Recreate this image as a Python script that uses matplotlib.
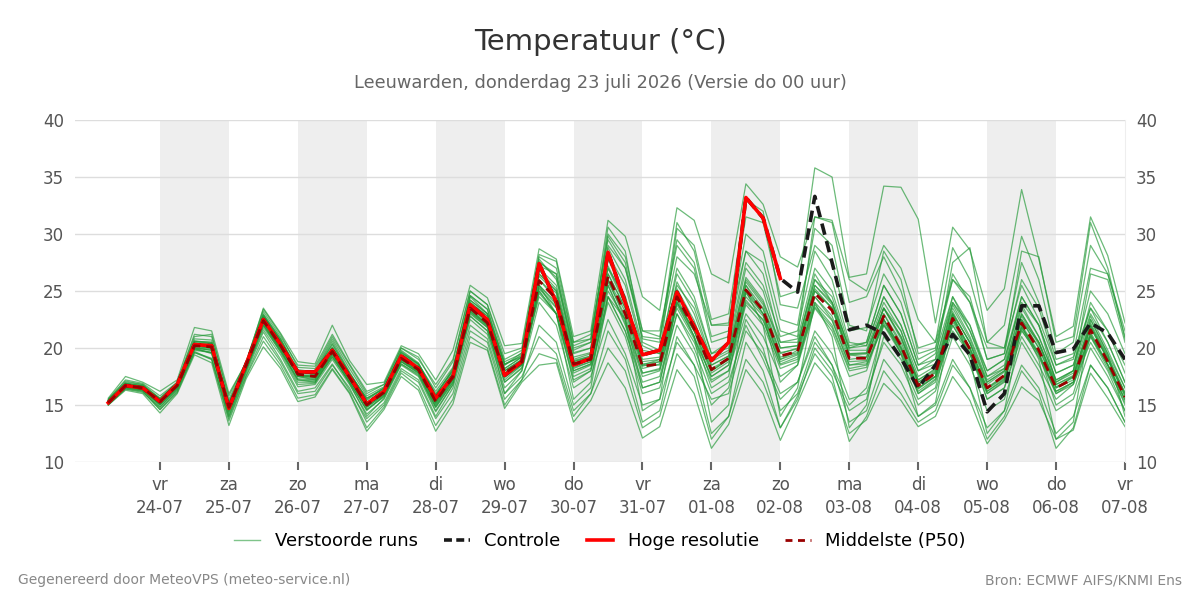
"""
Ensemble temperature plume for Leeuwarden (ECMWF AIFS ensemble).
"""

import matplotlib
matplotlib.use("Agg")
import matplotlib.pyplot as plt
from matplotlib.lines import Line2D
import pandas as pd


# 6-hourly steps from 23-07 06:00 up to 07-08 00:00 (60 values)
TIMES = pd.date_range("2026-07-23 06:00", periods=60, freq="6h")

TICK_DATES = pd.date_range("2026-07-24", "2026-08-07", freq="D")
TICK_DAYS = ["vr", "za", "zo", "ma", "di", "wo", "do", "vr",
             "za", "zo", "ma", "di", "wo", "do", "vr"]
TICK_LABELS = [f"{d}\n{t:%d-%m}" for d, t in zip(TICK_DAYS, TICK_DATES)]
SHADED_DAYS = ["2026-07-24", "2026-07-26", "2026-07-28", "2026-07-30",
               "2026-08-01", "2026-08-03", "2026-08-05"]

# high resolution run (ends 02-08 00:00)
hres = [15.2, 16.7, 16.5,
        15.3, 16.8, 20.3, 20.2,
        14.7, 18.6, 22.5, 20.3,
        17.9, 17.9, 19.8, 17.5,
        15.1, 16.2, 19.3, 18.2,
        15.6, 17.5, 23.8, 22.5,
        17.6, 18.8, 27.4, 24.0,
        18.5, 19.1, 28.4, 24.0,
        19.4, 19.8, 24.9, 21.9,
        18.9, 20.5, 33.2, 31.4,
        26.1]

# control run
control = [15.2, 16.7, 16.5,
           15.3, 16.8, 20.3, 20.2,
           14.7, 18.6, 22.5, 20.3,
           17.9, 17.9, 19.8, 17.5,
           15.1, 16.2, 19.3, 18.2,
           15.6, 17.5, 23.8, 22.5,
           17.6, 18.8, 27.4, 24.0,
           18.5, 19.1, 28.4, 24.0,
           19.4, 19.8, 24.9, 21.9,
           18.9, 20.5, 33.2, 31.4,
           26.1, 24.9, 33.3, 27.5,
           21.6, 22.0, 21.3, 19.1,
           16.5, 18.5, 21.2, 19.4,
           14.4, 16.0, 23.7, 23.7,
           19.6, 19.9, 22.2, 21.3,
           19.0]

# ensemble median
p50 = [15.2, 16.7, 16.5,
       15.3, 16.7, 20.2, 20.1,
       14.8, 18.5, 22.4, 20.2,
       17.7, 17.5, 19.7, 17.4,
       15.0, 16.1, 19.1, 18.1,
       15.3, 17.5, 23.5, 22.2,
       17.8, 18.8, 25.9, 24.3,
       18.6, 19.0, 26.3, 23.0,
       18.4, 18.6, 24.5, 21.7,
       18.1, 19.1, 25.1, 23.3,
       19.3, 19.7, 24.8, 23.3,
       19.1, 19.1, 22.8, 20.2,
       16.7, 17.8, 22.6, 19.9,
       16.5, 17.6, 22.2, 19.8,
       16.5, 17.3, 21.6, 18.8,
       15.7]

# perturbed members
m01 = [15.5, 17.2, 16.9, 15.8, 17.0, 21.0, 21.2, 15.5, 18.8, 23.2, 21.0,
       18.5, 18.4, 21.2, 18.6, 16.2, 16.8, 20.0, 19.2, 16.5, 18.8, 25.0, 23.8,
       19.5, 20.0, 28.2, 27.6, 20.5, 21.2, 29.5, 27.0, 21.0, 20.8, 28.0, 26.5,
       22.0, 22.2, 31.5, 31.0, 24.5, 25.0, 35.8, 35.0, 26.2, 26.5, 34.2, 34.1,
       31.3, 22.2, 30.6, 28.6, 23.3, 25.2, 33.9, 27.8, 21.0, 21.9, 31.5, 28.1,
       22.2]
m02 = [15.6, 17.5, 17.0, 16.2, 17.2, 21.8, 21.5, 16.0, 18.7, 23.5, 21.3,
       18.8, 18.6, 22.0, 18.9, 16.8, 17.0, 20.2, 19.5, 17.2, 19.8, 25.5, 24.4,
       20.2, 20.4, 28.7, 27.8, 21.0, 21.5, 31.2, 29.8, 24.5, 23.3, 32.3, 31.2,
       26.5, 25.7, 34.4, 32.6, 28.0, 27.1, 31.5, 31.2, 26.0, 25.0, 29.0, 27.0,
       22.5, 20.5, 28.8, 26.0, 20.5, 20.0, 27.5, 24.0, 19.0, 19.5, 27.0, 26.5,
       21.0]
m03 = [15.0, 16.3, 16.0, 14.3, 16.0, 19.4, 18.7, 13.2, 17.3, 20.1, 18.2,
       15.3, 15.7, 18.1, 16.0, 12.7, 14.6, 17.5, 16.3, 12.7, 15.1, 20.5, 19.8,
       14.7, 17.0, 18.5, 18.7, 13.5, 15.4, 18.7, 16.5, 12.1, 13.1, 18.1, 16.0,
       11.2, 13.3, 18.1, 16.0, 11.9, 15.2, 18.7, 16.9, 12.5, 13.7, 16.9, 15.4,
       13.1, 14.0, 17.5, 15.4, 11.6, 13.7, 16.6, 15.4, 12.0, 12.8, 17.8, 15.6,
       13.1]
m04 = [15.4, 16.9, 16.6, 15.6, 16.9, 20.6, 20.5, 15.0, 18.6, 22.9, 20.6,
       17.9, 17.8, 20.4, 17.8, 15.6, 16.4, 19.6, 18.6, 16.0, 18.0, 24.6, 23.4,
       18.5, 19.6, 27.8, 26.0, 20.0, 20.5, 30.6, 28.5, 20.5, 19.8, 26.5, 24.0,
       19.5, 20.5, 27.5, 25.5, 21.0, 21.5, 28.5, 26.0, 20.5, 20.2, 24.5, 22.0,
       18.0, 18.6, 24.5, 21.5, 17.5, 18.2, 23.8, 21.0, 17.2, 18.0, 24.0, 21.5,
       17.8]
m05 = [15.1, 16.5, 16.3, 15.0, 16.4, 19.9, 19.6, 14.5, 18.2, 22.0, 19.9,
       17.2, 17.1, 19.3, 17.0, 14.6, 15.8, 18.8, 17.8, 14.9, 17.2, 23.0, 21.8,
       17.2, 18.5, 25.2, 23.5, 17.8, 18.5, 25.5, 22.0, 17.5, 18.0, 23.5, 20.8,
       17.5, 18.5, 24.0, 22.5, 18.5, 19.0, 23.8, 22.0, 18.2, 18.5, 22.0, 19.5,
       16.0, 17.2, 22.0, 19.5, 16.2, 17.2, 21.8, 19.5, 16.0, 17.0, 21.2, 18.5,
       15.5]
m06 = [15.3, 16.8, 16.7, 15.2, 16.9, 20.4, 20.2, 14.6, 18.4, 22.6, 20.4,
       17.5, 17.6, 20.0, 17.6, 15.2, 16.2, 19.3, 18.3, 15.6, 17.8, 24.0, 22.8,
       18.2, 19.2, 27.0, 25.5, 19.5, 20.0, 28.8, 26.0, 20.2, 19.5, 30.5, 29.0,
       22.5, 23.0, 33.0, 32.0, 23.8, 23.5, 29.0, 27.5, 21.5, 21.8, 26.5, 24.0,
       19.0, 19.8, 26.0, 24.0, 20.0, 20.0, 25.5, 22.5, 18.5, 19.2, 23.5, 21.5,
       18.5]
m07 = [15.2, 16.6, 16.4, 15.1, 16.6, 20.0, 19.8, 14.2, 18.0, 21.6, 19.4,
       16.6, 16.8, 19.0, 16.8, 14.2, 15.5, 18.5, 17.5, 14.4, 16.8, 22.5, 21.2,
       16.5, 18.0, 24.0, 22.0, 16.5, 17.5, 22.5, 19.5, 15.0, 15.5, 20.5, 18.5,
       15.5, 16.0, 21.5, 19.5, 16.0, 17.0, 21.5, 19.5, 15.5, 16.0, 20.5, 18.5,
       15.0, 16.2, 21.0, 18.5, 14.5, 15.5, 20.5, 18.0, 14.5, 15.5, 20.0, 17.5,
       14.5]
m08 = [15.4, 17.0, 16.8, 15.5, 16.9, 20.8, 20.7, 15.1, 18.6, 23.0, 20.8,
       18.0, 17.9, 20.6, 17.9, 15.4, 16.5, 19.8, 18.7, 15.8, 18.2, 24.2, 23.0,
       18.6, 19.2, 26.5, 25.0, 19.0, 19.5, 27.0, 24.5, 19.5, 19.8, 25.5, 23.5,
       19.0, 19.8, 26.0, 24.0, 20.5, 20.8, 27.0, 25.0, 20.2, 20.5, 25.5, 23.0,
       18.5, 19.0, 27.5, 28.8, 20.5, 22.0, 29.8, 26.0, 19.5, 20.5, 29.0, 26.5,
       21.5]
m09 = [15.0, 16.4, 16.2, 14.6, 16.2, 19.6, 19.0, 13.8, 17.6, 21.0, 18.8,
       16.0, 16.2, 18.5, 16.5, 13.5, 15.0, 18.0, 17.0, 13.8, 16.0, 21.5, 20.5,
       15.5, 17.2, 22.0, 20.5, 15.0, 16.5, 24.5, 22.5, 16.5, 17.0, 24.0, 21.0,
       16.5, 17.5, 25.5, 23.0, 17.0, 18.5, 24.5, 22.5, 18.5, 18.8, 23.5, 21.5,
       16.8, 17.5, 23.0, 20.5, 16.0, 17.0, 22.5, 20.5, 16.5, 17.5, 22.5, 19.5,
       16.5]
m10 = [15.3, 16.7, 16.5, 15.3, 16.7, 20.2, 20.0, 14.9, 18.5, 22.4, 20.1,
       17.7, 17.5, 19.7, 17.3, 15.0, 16.1, 19.0, 18.0, 15.3, 17.4, 23.6, 22.2,
       17.8, 18.8, 26.5, 25.0, 18.8, 19.2, 27.8, 24.5, 18.5, 18.5, 25.0, 22.0,
       18.0, 19.0, 25.0, 23.0, 19.0, 19.5, 25.0, 23.5, 19.0, 19.2, 23.0, 20.5,
       17.0, 17.8, 22.8, 20.0, 16.5, 17.6, 22.5, 20.0, 16.5, 17.2, 21.8, 19.0,
       15.8]
m11 = [15.2, 16.6, 16.5, 15.4, 16.8, 20.3, 20.2, 15.2, 18.6, 22.6, 20.5,
       17.5, 17.2, 19.8, 17.5, 15.2, 16.2, 19.2, 18.2, 15.5, 17.6, 23.8, 22.5,
       18.0, 19.0, 25.0, 23.0, 17.0, 18.0, 24.0, 21.0, 16.0, 16.5, 22.0, 19.5,
       15.0, 16.5, 22.5, 20.0, 14.5, 16.0, 20.5, 18.5, 13.5, 14.5, 19.0, 17.0,
       14.0, 15.0, 19.0, 16.5, 13.0, 14.5, 18.5, 16.5, 12.5, 14.0, 18.5, 16.5,
       13.5]
m12 = [15.5, 17.1, 16.8, 15.6, 17.0, 21.2, 21.0, 15.8, 18.8, 23.4, 21.2,
       18.3, 18.2, 21.0, 18.5, 16.0, 16.8, 20.0, 19.0, 16.8, 19.0, 25.0, 23.8,
       19.0, 19.8, 28.0, 27.0, 20.5, 20.8, 30.0, 28.0, 21.5, 21.0, 29.5, 27.5,
       21.0, 21.5, 30.0, 28.5, 22.5, 22.0, 30.5, 29.0, 22.0, 21.5, 28.5, 26.0,
       19.5, 20.0, 26.5, 24.0, 19.0, 19.5, 26.0, 23.5, 18.5, 19.0, 25.0, 23.0,
       19.5]
m13 = [15.1, 16.4, 16.1, 14.8, 16.3, 19.6, 19.1, 14.0, 17.8, 21.4, 19.0,
       16.2, 16.5, 18.6, 16.3, 13.8, 15.2, 18.2, 17.2, 14.0, 16.5, 22.0, 20.8,
       16.0, 17.5, 21.0, 19.5, 14.5, 16.0, 20.0, 18.0, 13.0, 14.0, 19.5, 17.5,
       12.0, 14.0, 19.0, 17.0, 13.0, 15.5, 20.0, 18.0, 14.5, 15.5, 21.0, 19.0,
       15.5, 16.5, 22.5, 20.0, 15.5, 16.5, 21.5, 19.5, 15.0, 16.0, 21.0, 18.5,
       15.0]
m14 = [15.3, 16.9, 16.6, 15.5, 16.8, 20.5, 20.4, 15.3, 18.5, 22.8, 20.6,
       18.0, 18.0, 20.8, 18.2, 15.8, 16.6, 19.6, 18.6, 16.2, 18.3, 24.2, 23.0,
       18.8, 19.5, 27.2, 26.5, 19.8, 20.5, 29.0, 27.0, 21.5, 21.5, 29.0, 27.0,
       20.5, 21.0, 28.5, 27.5, 21.5, 21.0, 31.5, 31.0, 24.0, 24.5, 28.0, 25.0,
       20.0, 20.5, 26.0, 24.5, 19.0, 19.5, 28.5, 28.0, 20.5, 21.0, 31.0, 27.0,
       20.8]
m15 = [15.2, 16.6, 16.4, 15.2, 16.5, 19.9, 19.6, 14.7, 18.3, 22.2, 19.8,
       17.3, 17.2, 19.4, 17.2, 14.8, 15.9, 18.8, 17.9, 15.2, 17.3, 23.2, 22.0,
       17.5, 18.6, 24.5, 23.0, 18.0, 18.6, 25.0, 22.5, 17.8, 18.2, 24.0, 21.5,
       17.2, 18.0, 23.0, 21.0, 17.5, 18.5, 23.5, 21.5, 17.5, 18.0, 22.5, 20.0,
       16.0, 17.0, 21.5, 19.5, 15.5, 16.5, 21.0, 18.5, 15.5, 16.8, 20.5, 18.0,
       14.5]
m16 = [15.1, 16.6, 16.3, 14.8, 16.4, 20.0, 19.5, 14.0, 18.0, 22.0, 19.6,
       16.8, 16.9, 19.5, 16.9, 14.0, 15.6, 18.8, 17.8, 14.5, 16.8, 23.4, 22.0,
       16.0, 18.0, 25.5, 23.0, 15.5, 17.0, 26.0, 22.5, 14.5, 15.5, 24.5, 21.0,
       13.5, 15.0, 25.0, 22.0, 14.0, 16.5, 24.0, 21.0, 13.0, 15.0, 22.5, 19.5,
       14.0, 15.2, 23.0, 19.0, 12.5, 14.5, 22.0, 19.0, 12.0, 13.5, 22.5, 19.5,
       14.0]
m17 = [15.4, 16.9, 16.7, 15.4, 16.9, 20.6, 20.4, 15.2, 18.7, 22.8, 20.7,
       17.9, 17.8, 20.1, 17.7, 15.6, 16.5, 19.5, 18.5, 15.8, 18.0, 24.5, 23.0,
       18.5, 19.4, 27.5, 26.5, 20.2, 20.8, 29.8, 27.5, 20.8, 20.5, 31.0, 28.5,
       22.0, 22.0, 28.5, 26.5, 20.5, 20.5, 26.0, 24.0, 20.0, 20.5, 25.5, 23.0,
       18.5, 19.5, 24.5, 22.0, 18.0, 19.0, 24.0, 22.0, 17.8, 18.5, 23.0, 20.5,
       17.0]
m18 = [15.3, 16.8, 16.6, 15.3, 16.7, 20.4, 20.3, 14.9, 18.5, 22.5, 20.3,
       17.8, 17.7, 19.9, 17.5, 15.1, 16.3, 19.2, 18.2, 15.5, 17.7, 23.5, 22.4,
       18.0, 18.9, 26.0, 24.5, 18.8, 19.3, 26.5, 23.5, 18.5, 19.0, 25.0, 22.0,
       18.5, 19.3, 25.5, 23.5, 19.5, 20.0, 25.0, 23.5, 19.5, 19.5, 23.5, 21.0,
       17.0, 18.0, 23.0, 20.5, 17.0, 18.0, 23.0, 20.5, 17.0, 17.8, 22.0, 19.0,
       16.0]
m19 = [15.2, 16.7, 16.4, 15.0, 16.6, 20.0, 19.8, 14.4, 18.2, 22.0, 19.8,
       17.0, 17.0, 19.2, 17.0, 14.5, 15.8, 18.6, 17.6, 14.8, 17.0, 22.8, 21.5,
       17.0, 18.3, 25.0, 23.0, 17.5, 18.2, 24.5, 21.5, 16.5, 17.0, 23.0, 20.0,
       16.0, 17.0, 22.0, 19.0, 15.5, 17.0, 21.0, 18.5, 15.0, 16.5, 22.0, 20.0,
       16.5, 17.5, 24.0, 22.0, 17.5, 18.5, 24.5, 22.0, 17.0, 18.0, 26.5, 26.0,
       20.5]
m20 = [15.0, 16.5, 16.2, 14.6, 16.1, 19.7, 19.0, 13.6, 17.5, 20.6, 18.5,
       15.6, 15.9, 18.2, 16.1, 13.0, 14.8, 17.8, 16.6, 13.2, 15.5, 21.0, 20.0,
       15.0, 17.2, 19.5, 19.0, 14.0, 16.0, 21.5, 19.0, 13.5, 14.5, 21.0, 18.5,
       12.5, 14.0, 20.5, 18.0, 13.0, 15.8, 19.5, 17.5, 11.8, 14.0, 18.0, 16.0,
       13.5, 14.5, 18.5, 16.5, 12.0, 14.0, 18.0, 16.0, 11.2, 13.0, 18.5, 16.5,
       13.5]
m21 = [15.3, 16.8, 16.6, 15.4, 16.8, 20.4, 20.2, 14.9, 18.6, 22.7, 20.4,
       17.9, 17.7, 20.0, 17.6, 15.2, 16.3, 19.4, 18.4, 15.6, 17.8, 24.0, 22.8,
       18.2, 19.2, 26.8, 25.2, 19.2, 19.6, 27.2, 24.0, 19.0, 19.2, 25.8, 23.0,
       18.8, 19.6, 26.2, 24.2, 20.0, 20.2, 26.0, 24.5, 19.8, 19.8, 24.0, 21.5,
       17.5, 18.4, 23.8, 21.0, 17.2, 18.2, 23.5, 21.0, 17.2, 18.0, 22.8, 19.8,
       16.5]
m22 = [15.2, 16.6, 16.4, 15.1, 16.6, 20.0, 19.9, 14.6, 18.3, 22.1, 20.0,
       17.5, 17.3, 19.5, 17.2, 14.8, 15.9, 18.9, 17.9, 15.0, 17.2, 23.1, 21.8,
       17.4, 18.5, 25.3, 23.6, 18.0, 18.6, 25.5, 22.2, 17.8, 18.1, 23.8, 21.0,
       17.5, 18.5, 24.2, 22.4, 18.6, 19.2, 24.0, 22.4, 18.5, 18.6, 22.2, 19.6,
       16.2, 17.3, 22.0, 19.4, 16.0, 17.1, 21.6, 19.2, 16.0, 16.8, 21.0, 18.2,
       15.2]
m23 = [15.4, 16.9, 16.7, 15.5, 16.9, 20.6, 20.5, 15.1, 18.7, 22.9, 20.8,
       18.1, 17.9, 20.3, 17.8, 15.5, 16.5, 19.7, 18.6, 15.9, 18.1, 24.6, 23.4,
       18.6, 19.3, 27.6, 26.2, 19.6, 20.0, 28.2, 25.5, 19.8, 19.5, 27.0, 24.5,
       19.5, 20.0, 27.0, 25.0, 20.0, 20.2, 26.5, 24.0, 19.5, 19.6, 23.5, 21.0,
       17.2, 18.2, 23.5, 20.8, 17.0, 18.0, 23.0, 20.5, 16.8, 17.5, 22.0, 19.2,
       16.0]
m24 = [15.1, 16.5, 16.3, 15.0, 16.5, 19.8, 19.6, 14.4, 18.1, 21.8, 19.7,
       17.2, 17.0, 19.2, 17.0, 14.6, 15.7, 18.6, 17.7, 14.8, 17.0, 22.8, 21.5,
       17.0, 18.2, 24.8, 23.0, 17.2, 18.0, 24.5, 21.5, 17.0, 17.5, 23.0, 20.5,
       17.0, 18.0, 23.8, 22.0, 18.2, 18.8, 23.6, 21.8, 18.0, 18.3, 22.5, 20.0,
       16.5, 17.5, 22.5, 19.8, 16.4, 17.4, 22.0, 19.6, 16.2, 17.0, 21.2, 18.5,
       15.4]
m25 = [15.3, 16.7, 16.6, 15.3, 16.7, 20.3, 20.1, 14.8, 18.5, 22.4, 20.2,
       17.6, 17.5, 19.8, 17.4, 15.0, 16.1, 19.1, 18.1, 15.3, 17.5, 23.4, 22.1,
       17.7, 18.8, 26.0, 24.2, 18.5, 19.0, 26.0, 23.2, 18.4, 18.8, 24.8, 22.0,
       18.2, 19.0, 25.0, 23.4, 19.2, 19.6, 25.2, 23.5, 19.4, 19.2, 23.0, 20.2,
       16.8, 17.9, 22.7, 20.0, 16.5, 17.5, 22.4, 20.0, 16.6, 17.4, 21.8, 19.0,
       15.8]
m26 = [15.2, 16.7, 16.5, 15.2, 16.7, 20.2, 20.0, 14.7, 18.4, 22.3, 20.1,
       17.6, 17.4, 19.6, 17.3, 14.9, 16.0, 19.0, 18.0, 15.2, 17.4, 23.3, 22.0,
       17.6, 18.6, 25.5, 23.8, 18.2, 18.8, 25.8, 22.8, 18.2, 18.6, 24.0, 21.5,
       18.0, 19.0, 24.8, 23.0, 19.0, 19.8, 25.5, 24.0, 20.0, 20.2, 24.5, 22.0,
       18.0, 19.0, 24.0, 21.5, 18.0, 19.0, 24.5, 22.0, 17.8, 18.5, 23.5, 20.5,
       17.0]
m27 = [15.2, 16.6, 16.4, 15.2, 16.6, 20.1, 20.0, 14.7, 18.4, 22.2, 20.0,
       17.6, 17.4, 19.6, 17.3, 14.9, 16.0, 19.0, 18.0, 15.1, 17.3, 23.2, 21.9,
       17.5, 18.6, 25.5, 24.0, 18.3, 18.8, 26.5, 23.5, 18.6, 18.8, 24.2, 21.5,
       17.8, 18.8, 24.5, 22.8, 18.8, 19.4, 24.5, 22.8, 18.8, 18.9, 22.5, 19.8,
       16.4, 17.5, 22.3, 19.6, 16.2, 17.3, 21.8, 19.4, 16.2, 17.0, 21.4, 18.6,
       15.5]
m28 = [15.4, 16.8, 16.6, 15.4, 16.8, 20.4, 20.3, 15.0, 18.6, 22.6, 20.4,
       17.8, 17.7, 19.9, 17.5, 15.2, 16.3, 19.3, 18.3, 15.5, 17.7, 23.7, 22.4,
       18.0, 19.0, 26.3, 24.8, 18.9, 19.3, 27.0, 23.8, 18.8, 19.0, 25.2, 22.4,
       18.5, 19.3, 25.8, 23.8, 19.6, 19.9, 25.5, 23.8, 19.4, 19.5, 23.5, 20.8,
       17.2, 18.1, 23.2, 20.4, 16.8, 17.9, 22.8, 20.3, 16.8, 17.6, 22.2, 19.3,
       16.1]

members = [m01, m02, m03, m04, m05, m06, m07, m08, m09, m10,
           m11, m12, m13, m14, m15, m16, m17, m18, m19, m20,
           m21, m22, m23, m24, m25, m26, m27, m28]

MEMBER_COLOR = "#259a39"
TEXT_DARK = "#333333"
TEXT_MID = "#555555"
TEXT_LIGHT = "#888888"


def main() -> None:
    fig = plt.figure(figsize=(12, 6), dpi=100)
    ax = fig.add_axes([0.0625, 0.23, 0.875, 0.57])

    for day in SHADED_DAYS:
        start = pd.Timestamp(day)
        ax.axvspan(start, start + pd.Timedelta(days=1), color="#eeeeee", lw=0, zorder=0)

    for vals in members:
        ax.plot(TIMES, vals, color=MEMBER_COLOR, lw=0.9, alpha=0.68, zorder=2)

    ax.plot(TIMES, control, color="#1a1a1a", lw=2.6, ls=(0, (3.2, 1.8)), zorder=3)
    ax.plot(TIMES[:len(hres)], hres, color="#ff0000", lw=2.6, zorder=4)
    ax.plot(TIMES, p50, color="#990000", lw=2.0, ls=(0, (3.5, 2.2)), zorder=5)

    ax.set_ylim(10, 40)
    ax.set_yticks(range(10, 41, 5))
    ax.set_xlim(pd.Timestamp("2026-07-22 18:25"), pd.Timestamp("2026-08-07 00:00"))
    ax.set_xticks(TICK_DATES)
    ax.set_xticklabels(TICK_LABELS, linespacing=1.35)

    ax.grid(axis="y", color="#dddddd", lw=1)
    ax.set_axisbelow(True)
    for side in ["top", "left", "bottom"]:
        ax.spines[side].set_visible(False)
    ax.spines["right"].set_color("#eeeeee")

    ax.tick_params(axis="x", colors=TEXT_MID, labelsize=12, length=6, width=1.5, pad=4)
    ax.tick_params(axis="x", color="#666666")
    ax.tick_params(axis="y", colors=TEXT_MID, labelsize=12, length=0, pad=8,
                   labelleft=True, labelright=True)

    fig.text(0.5, 0.93, "Temperatuur (°C)", ha="center", va="center",
             fontsize=21, color=TEXT_DARK)
    fig.text(0.5, 0.862, "Leeuwarden, donderdag 23 juli 2026 (Versie do 00 uur)",
             ha="center", va="center", fontsize=12.8, color="#666666")

    handles = [
        Line2D([], [], color="#2a9d3c", lw=1, alpha=0.6),
        Line2D([], [], color="#1a1a1a", lw=2.6, ls=(0, (2.2, 1.2))),
        Line2D([], [], color="#ff0000", lw=2.6),
        Line2D([], [], color="#990000", lw=2.0, ls=(0, (2.5, 2.0))),
    ]
    labels = ["Verstoorde runs", "Controle", "Hoge resolutie", "Middelste (P50)"]
    fig.legend(handles, labels, loc="center", bbox_to_anchor=(0.5, 0.098), ncol=4,
               frameon=False, fontsize=13, handlelength=1.45, columnspacing=1.45,
               handletextpad=0.8)

    fig.text(0.015, 0.033, "Gegenereerd door MeteoVPS (meteo-service.nl)",
             ha="left", va="center", fontsize=10, color=TEXT_LIGHT)
    fig.text(0.985, 0.033, "Bron: ECMWF AIFS/KNMI Ens",
             ha="right", va="center", fontsize=10, color=TEXT_LIGHT)

    fig.savefig("out.png", dpi=100)
    plt.close(fig)


if __name__ == "__main__":
    main()
